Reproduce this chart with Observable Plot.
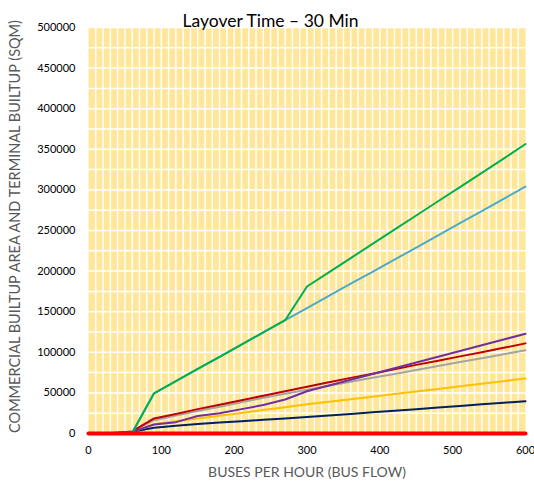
<!DOCTYPE html>
<html><head><meta charset="utf-8">
<script src="https://cdn.jsdelivr.net/npm/d3@7"></script>
<script src="https://cdn.jsdelivr.net/npm/@observablehq/plot@0.6"></script>
<style>body{margin:0;background:#fff}</style>
</head><body><div id="chart"></div>
<script>
const titleText = "Layover Time \u2013 30 Min";
const xLabel = "BUSES PER HOUR (BUS FLOW)";
const yLabel = "COMMERCIAL BUILTUP AREA AND TERMINAL BUILTUP (SQM)";
const xTicks = [0, 100, 200, 300, 400, 500, 600];
const yTicks = [0, 50000, 100000, 150000, 200000, 250000, 300000, 350000, 400000, 450000, 500000];

const busFlow = [0,30,60,90,120,150,180,210,240,270,300,330,360,390,420,450,480,510,540,570,600];
const navy   = [0,500,2000,7000,9600,11600,13400,15100,16800,18500,20200,22100,24100,26100,28000,30000,32000,34000,35900,37900,39800];
const gold   = [0,0,2000,11500,15000,18400,21900,25300,28800,32300,35900,39100,42200,45400,48600,51800,54900,58100,61300,64500,67700];
const grey   = [0,0,2500,16400,22000,27800,33000,38500,44000,49000,54000,58900,63700,68600,73400,78300,83100,88000,92800,97700,102600];
const darkRed= [0,0,2500,18500,24000,30000,35500,41000,46500,52000,57500,63000,68500,73500,79000,84500,89500,95000,100000,105500,111000];
const purple = [0,0,2000,11000,14000,21500,25000,30000,35000,41900,52100,59200,66200,73300,80400,87500,94500,101600,108700,115700,122800];
const blue   = [0,0,1000,49500,64500,79500,94500,109500,124500,139500,154500,169500,184500,199000,214000,229000,244000,259000,274000,289000,304000];
const green  = [0,0,1000,49500,64500,79500,94500,109500,124500,139500,181000,198500,216000,233500,251000,268500,286000,303500,321000,338500,356500];
const zeroLine = [0,0,0,0,0,0,0,0,0,0,0,0,0,0,0,0,0,0,0,0,0];

const seriesList = [
  {values: navy, color: "#002060", w: 2},
  {values: gold, color: "#FFC000", w: 2},
  {values: grey, color: "#A5A5A5", w: 2},
  {values: darkRed, color: "#C00000", w: 2},
  {values: purple, color: "#7030A0", w: 2},
  {values: blue, color: "#4BACC6", w: 2},
  {values: green, color: "#00B050", w: 2},
  {values: zeroLine, color: "#FF0000", w: 4}
];

const lineMarks = seriesList.map(s => Plot.line(busFlow.map((x, i) => ({x, y: s.values[i]})), {
  x: "x", y: "y", stroke: s.color, strokeWidth: s.w
}));

const chart = Plot.plot({
  width: 534, height: 481,
  marginTop: 27, marginBottom: 48, marginLeft: 88, marginRight: 9,
  x: {domain: [0, 600]},
  y: {domain: [0, 500000]},
  style: {fontFamily: "Lato, sans-serif", fontSize: "11px", color: "#000", background: "#fff"},
  marks: [
    Plot.frame({fill: "#FFE699", stroke: null}),
    Plot.ruleX(d3.range(10, 600, 10), {stroke: "white", strokeWidth: 1.5}),
    Plot.ruleY(d3.range(25000, 500001, 25000), {stroke: "white", strokeWidth: 1.5}),
    Plot.axisX({ticks: xTicks, tickSize: 0, tickPadding: 13, label: null, tickFormat: d => String(d)}),
    Plot.axisY({ticks: yTicks, tickSize: 0, tickPadding: 13, label: null, tickFormat: d => String(d)}),
    ...lineMarks,
    Plot.text([titleText], {frameAnchor: "top-left", dx: 182, dy: -1, textAnchor: "middle", lineAnchor: "bottom", fontSize: 17.5, fill: "#000"}),
    Plot.text([xLabel], {frameAnchor: "bottom", dy: 39, textAnchor: "middle", lineAnchor: "middle", fontSize: 14, fill: "#595959"}),
    Plot.text([yLabel], {frameAnchor: "left", dx: -73, dy: -4, rotate: -90, textAnchor: "middle", lineAnchor: "middle", fontSize: 14.5, fill: "#595959"})
  ]
});
document.getElementById("chart").appendChild(chart);
</script>
</body></html>
